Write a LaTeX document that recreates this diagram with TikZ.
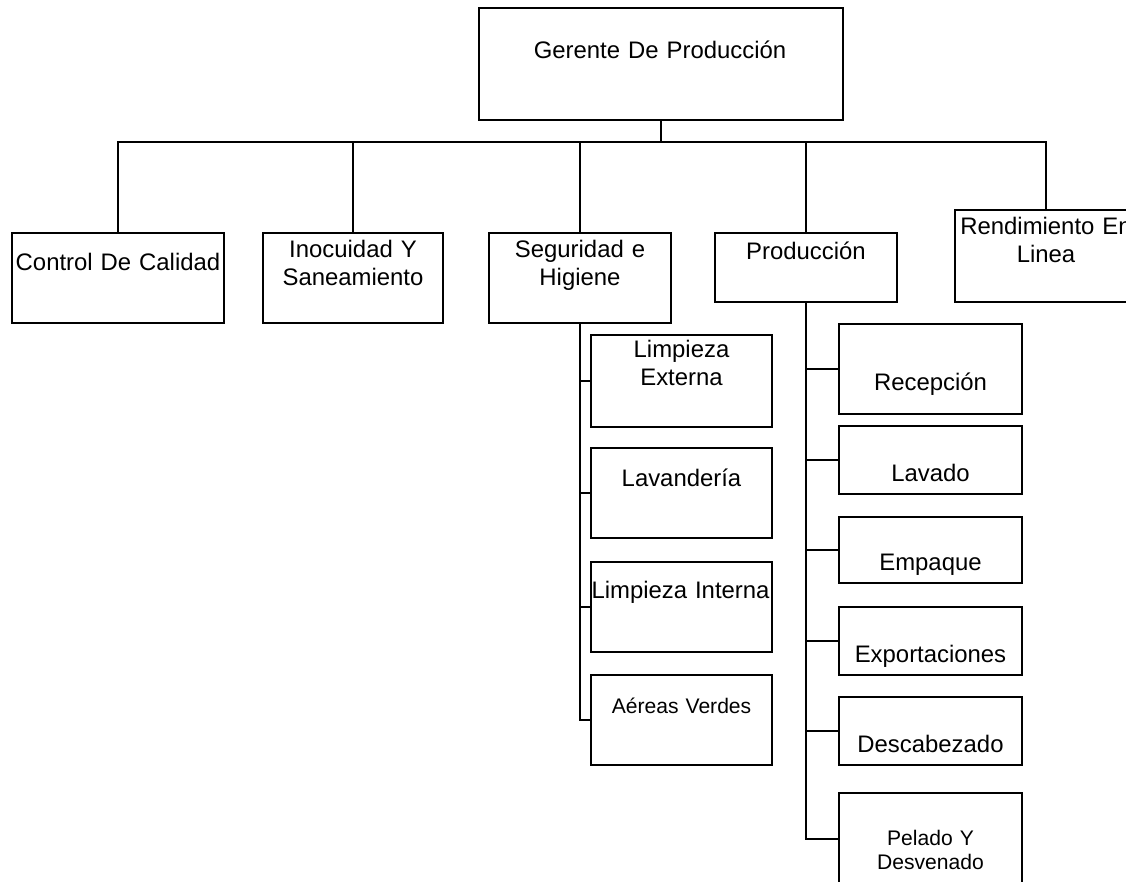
\documentclass[tikz,border=0pt]{standalone}
\usepackage{fontspec}
\setmainfont{Liberation Sans}
\usetikzlibrary{fit}
\begin{document}
\begin{tikzpicture}[x=0.02cm,y=-0.02cm,
  box/.style={draw, line width=1.13pt, inner sep=0pt},
  lbl/.style={anchor=base, inner sep=0pt, text width=6cm, align=center,
              font=\fontsize{13.6}{16}\selectfont},
  smalllbl/.style={lbl, font=\fontsize{12}{14}\selectfont},
  link/.style={line width=1.13pt}]
\useasboundingbox (0,0) rectangle (1126,882);
\clip (0,0) rectangle (1126,882);

% top level
\node[box, fit={(479,8) (843,120)}] (gp) {};
\node[lbl] at (660,59) {Gerente De Producción};

% second level
\node[box, fit={(12,233) (224,323)}] (cc) {};
\node[lbl] at (118,270) {Control De Calidad};
\node[box, fit={(263,233) (443,323)}] (is) {};
\node[lbl] at (353,257) {Inocuidad Y\\Saneamiento};
\node[box, fit={(489,233) (671,323)}] (sh) {};
\node[lbl] at (580,257) {Seguridad e\\Higiene};
\node[box, fit={(715,233) (897,302)}] (pr) {};
\node[lbl] at (806,259) {Producción};
\node[box, fit={(955,210) (1137,302)}] (rl) {};
\node[lbl] at (1046,234) {Rendimiento En\\Linea};

% under Seguridad e Higiene
\node[box, fit={(591,335) (772,427)}] (le) {};
\node[lbl] at (681.5,357) {Limpieza\\Externa};
\node[box, fit={(591,448) (772,538)}] (lv) {};
\node[lbl] at (681.5,486) {Lavandería};
\node[box, fit={(591,562) (772,652)}] (li) {};
\node[lbl] at (680.5,598) {Limpieza Interna};
\node[box, fit={(591,675) (772,765)}] (av) {};
\node[smalllbl] at (681.5,713) {Aéreas Verdes};

% under Producción
\node[box, fit={(839,324) (1022,414)}] (re) {};
\node[lbl] at (930.5,390) {Recepción};
\node[box, fit={(839,426) (1022,494)}] (la) {};
\node[lbl] at (930.5,481) {Lavado};
\node[box, fit={(839,517) (1022,583)}] (em) {};
\node[lbl] at (930.5,570) {Empaque};
\node[box, fit={(839,607) (1022,675)}] (ex) {};
\node[lbl] at (930.5,662) {Exportaciones};
\node[box, fit={(839,697) (1022,765)}] (de) {};
\node[lbl] at (930.5,752) {Descabezado};
\node[box, fit={(839,793) (1022,885)}] (pd) {};
\node[smalllbl] at (930.5,845) {Pelado Y\\Desvenado};

% connectors
\coordinate (bus) at (661,142);
\draw[link] (gp.south) -- (gp.south |- bus);
\draw[link] (cc.north) |- (bus) -| (rl.north);
\draw[link] (is.north) -- (is.north |- bus);
\draw[link] (sh.north) -- (sh.north |- bus);
\draw[link] (pr.north) -- (pr.north |- bus);

\draw[link] (sh.south) |- (av.west);
\draw[link] (sh.south |- le.west) -- (le.west);
\draw[link] (sh.south |- lv.west) -- (lv.west);
\draw[link] (sh.south |- li.west) -- (li.west);

\draw[link] (pr.south) |- (pd.west);
\draw[link] (pr.south |- re.west) -- (re.west);
\draw[link] (pr.south |- la.west) -- (la.west);
\draw[link] (pr.south |- em.west) -- (em.west);
\draw[link] (pr.south |- ex.west) -- (ex.west);
\draw[link] (pr.south |- de.west) -- (de.west);
\end{tikzpicture}
\end{document}
